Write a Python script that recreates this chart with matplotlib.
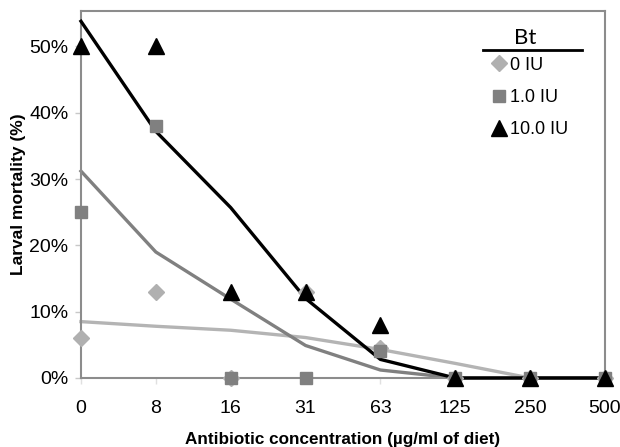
import matplotlib.pyplot as plt
import matplotlib.ticker as ticker
from matplotlib.lines import Line2D

# концентрации антибиотика (категории по оси X)
conc = ['0', '8', '16', '31', '63', '125', '250', '500']

# смертность личинок, %
bt0 = [6, 13, 0, 13, 4.5, 0, 0, 0]
bt1 = [25, 38, 0, 0, 4, 0, 0, 0]
bt10 = [50, 50, 13, 13, 8, 0, 0, 0]

# линии тренда (скользящее среднее), %
trend0 = [8.5, 7.8, 7.2, 6.1, 4.3, 2.2, 0, 0]
trend1 = [31.2, 19.0, 11.9, 4.9, 1.2, 0, 0, 0]
trend10 = [53.8, 37.2, 25.7, 12.0, 2.8, 0, 0, 0]

arial = ['Liberation Sans', 'DejaVu Sans']

fig = plt.figure(figsize=(6.2, 4.47), dpi=100)
ax = fig.add_axes([0.1306, 0.1544, 0.8452, 0.821])

x = list(range(len(conc)))

ax.plot(x, trend0, color='#b4b4b4', lw=2.4, zorder=2, clip_on=False)
ax.plot(x, trend1, color='#808080', lw=2.4, zorder=2, clip_on=False)
ax.plot(x, trend10, color='black', lw=2.4, zorder=3, clip_on=False)

ax.plot(x, bt0, linestyle='none', marker='D', color='#b0b0b0', markersize=8,
        zorder=4, clip_on=False, label='0 IU')
ax.plot(x, bt1, linestyle='none', marker='s', color='#808080', markersize=9,
        zorder=5, clip_on=False, label='1.0 IU')
ax.plot(x, bt10, linestyle='none', marker='^', color='black', markersize=11,
        zorder=6, clip_on=False, label='10.0 IU')

ax.set_xlim(0, 7)
ax.set_ylim(0, 55.35)
ax.set_xticks(x)
ax.set_xticklabels(conc, family=arial, fontsize=14)
ax.set_yticks([0, 10, 20, 30, 40, 50])
ax.yaxis.set_major_formatter(ticker.FuncFormatter(lambda v, p: '%d%%' % v))
for lab in ax.get_yticklabels():
    lab.set_family(arial)
    lab.set_fontsize(14)

for s in ax.spines.values():
    s.set_color('#8c8c8c')
    s.set_linewidth(1.5)
ax.tick_params(axis='y', length=4, width=1, color='#c8c8c8', pad=5)
ax.tick_params(axis='x', length=4, width=1, color='#e0e0e0', pad=12)

ax.set_ylabel('Larval mortality (%)', fontsize=12.5, fontweight='bold',
              family=arial, labelpad=2)
ax.set_xlabel('Antibiotic concentration (µg/ml of diet)', fontsize=12.3,
              fontweight='bold', family=arial, labelpad=11)

leg = ax.legend(loc='upper right', bbox_to_anchor=(0.96, 0.92), frameon=False,
                prop={'family': arial, 'size': 13},
                handletextpad=0.0, handlelength=1.2, labelspacing=0.85)
fig.text(0.847, 0.915, 'Bt', family=['Lato', 'DejaVu Sans'], fontsize=16,
         ha='center', va='center')
fig.add_artist(Line2D([483 / 620, 582 / 620], [1 - 50 / 447, 1 - 50 / 447],
                      color='black', lw=2))

plt.savefig('out.png', dpi=100)
